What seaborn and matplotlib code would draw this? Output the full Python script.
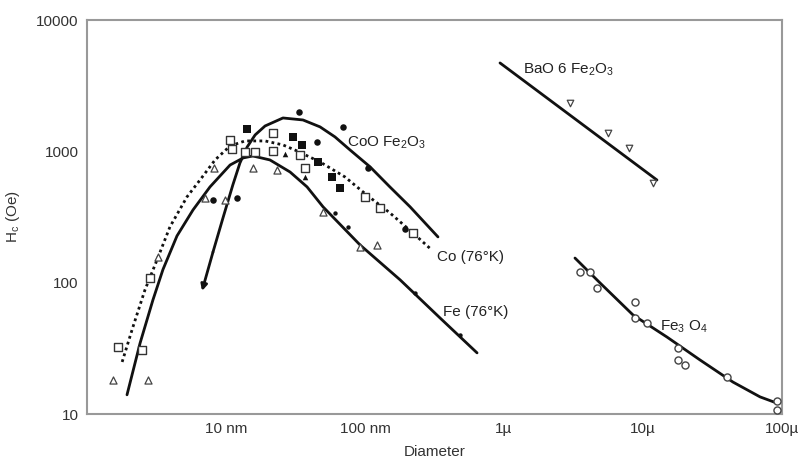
import numpy as np
import pandas as pd
import matplotlib
matplotlib.use('Agg')
import matplotlib.pyplot as plt
import seaborn as sns

# Fitted curves (diameter in nm, Hc in Oe)
fe_curve_d = [1.94, 2.41, 2.98, 3.52, 4.44, 5.79, 7.67, 10.7, 13.3, 15.6, 20.7, 28.9, 38.3, 49.9,
              92, 179, 347, 640]
fe_curve_hc = [14.0, 34.7, 73.8, 126, 227, 358, 536, 787, 891, 922, 860, 696, 536, 378,
               194, 105, 53.8, 29.2]

co_curve_d = [1.79, 2.14, 2.61, 3.19, 3.95, 5.24, 6.50, 8.34, 10.7, 13.7, 19.1, 25.7, 32.4, 47.5,
              71.8, 103, 151, 221, 303]
co_curve_hc = [24.9, 46.0, 87.9, 149, 266, 450, 605, 860, 1099, 1200, 1200, 1119, 1007, 830,
               638, 465, 340, 239, 177]

# first point is the arrow tip
coo_curve_d = [6.72, 8.06, 9.51, 11.2, 12.6, 14.2, 16.2, 19.1, 25.7, 35.8, 47.5, 60.8, 78.0,
               109, 151, 211, 335]
coo_curve_hc = [86.5, 171, 311, 555, 816, 1079, 1333, 1560, 1795, 1733, 1535, 1288, 1025,
                760, 536, 378, 223]

bao_curve_d = [936, 12600]
bao_curve_hc = [4710, 605]

fe3o4_curve_d = [3240, 4910, 8470, 14900, 25700, 44400, 69500, 92000]
fe3o4_curve_hc = [154, 99.5, 56.8, 38.5, 25.8, 17.5, 13.5, 12.1]

# Measured points
open_sq_d = [1.67, 2.49, 2.84, 10.7, 11.0, 13.7, 16.2, 21.8, 21.8, 34.1, 37.0, 100, 128, 221]
open_sq_hc = [32.4, 30.7, 109, 1222, 1042, 989, 989, 1380, 1007, 939, 748, 450, 371, 239]

filled_circ_d = [8.06, 12.0, 33.5, 45.2, 69.5, 105, 194]
filled_circ_hc = [427, 442, 1995, 1180, 1535, 748, 256]

small_dot_d = [60.8, 75.5, 229, 482]
small_dot_hc = [340, 266, 83.5, 40.0]

filled_sq_d = [14.2, 30.3, 35.2, 45.9, 57.9, 66.1]
filled_sq_hc = [1482, 1288, 1119, 830, 638, 526]

open_tri_d = [1.54, 2.75, 3.24, 7.06, 9.84, 8.20, 15.6, 23.3, 49.9, 92.0, 122]
open_tri_hc = [18.2, 18.2, 157, 442, 427, 748, 748, 721, 345, 187, 194]

small_tri_d = [26.6, 37.0]
small_tri_hc = [955, 638]

bao_pts_d = [2985, 5600, 7930, 11800]
bao_pts_hc = [2340, 1380, 1062, 574]

fe3o4_pts_d = [3520, 4160, 4670, 8750, 8750, 10700, 17900, 17900, 20100, 40200, 92000, 92000]
fe3o4_pts_hc = [120, 120, 91, 71.3, 53.8, 49.3, 31.8, 25.8, 23.6, 19.1, 12.6, 10.7]

x_ticks = [10, 100, 1000, 10000, 100000]
x_ticklabels = ['10 nm', '100 nm', '1\u00b5', '10\u00b5', '100\u00b5']
y_ticks = [10, 100, 1000, 10000]
y_ticklabels = ['10', '100', '1000', '10000']

sns.set_style('white')
plt.rcParams['font.family'] = ['Liberation Sans', 'DejaVu Sans']
plt.rcParams['mathtext.fontset'] = 'custom'
plt.rcParams['mathtext.rm'] = 'Liberation Sans'

fig = plt.figure(figsize=(8.01, 4.66), dpi=100)
ax = fig.add_axes([87 / 801, 52 / 466, 695 / 801, 394 / 466])
ax.set_xscale('log')
ax.set_yscale('log')

ink = '#111111'

# curves
sns.lineplot(x=fe_curve_d, y=fe_curve_hc, sort=False, estimator=None, color=ink, lw=2, ax=ax)
sns.lineplot(x=co_curve_d, y=co_curve_hc, sort=False, estimator=None, color=ink, lw=2,
             linestyle=(0, (1, 1.2)), ax=ax)
sns.lineplot(x=coo_curve_d[1:], y=coo_curve_hc[1:], sort=False, estimator=None, color=ink, lw=2, ax=ax)
ax.annotate('', xy=(coo_curve_d[0], coo_curve_hc[0]), xytext=(coo_curve_d[1], coo_curve_hc[1]),
            arrowprops=dict(arrowstyle='-|>', color=ink, lw=2, mutation_scale=9, shrinkA=0, shrinkB=0))
sns.lineplot(x=bao_curve_d, y=bao_curve_hc, sort=False, estimator=None, color=ink, lw=2, ax=ax)
sns.lineplot(x=fe3o4_curve_d, y=fe3o4_curve_hc, sort=False, estimator=None, color=ink, lw=2, ax=ax)

# data points
sns.scatterplot(x=open_sq_d, y=open_sq_hc, marker='s', s=34, facecolor='white',
                edgecolor='#333333', linewidth=1, ax=ax, zorder=3)
sns.scatterplot(x=filled_sq_d, y=filled_sq_hc, marker='s', s=38, color=ink, linewidth=0, ax=ax, zorder=3)
sns.scatterplot(x=filled_circ_d, y=filled_circ_hc, marker='o', s=22, color=ink, linewidth=0, ax=ax, zorder=3)
sns.scatterplot(x=small_dot_d, y=small_dot_hc, marker='o', s=10, color=ink, linewidth=0, ax=ax, zorder=3)
sns.scatterplot(x=open_tri_d, y=open_tri_hc, marker='^', s=26, facecolor='white',
                edgecolor='#444444', linewidth=0.9, ax=ax, zorder=3)
sns.scatterplot(x=small_tri_d, y=small_tri_hc, marker='^', s=16, color=ink, linewidth=0, ax=ax, zorder=3)
sns.scatterplot(x=bao_pts_d, y=bao_pts_hc, marker='v', s=22, facecolor='white',
                edgecolor='#444444', linewidth=0.9, ax=ax, zorder=3)
sns.scatterplot(x=fe3o4_pts_d, y=fe3o4_pts_hc, marker='o', s=26, facecolor='white',
                edgecolor='#444444', linewidth=1, ax=ax, zorder=3)

# curve labels
lab = dict(fontsize=11, color='#222222', va='center', ha='left')
ax.text(74.2, 1160, 'CoO Fe$_2$O$_3$', **lab)
ax.text(330, 157, 'Co (76\u00b0K)', **lab)
ax.text(364, 59.8, 'Fe (76\u00b0K)', **lab)
ax.text(1370, 4170, 'BaO 6 Fe$_2$O$_3$', **lab)
ax.text(13250, 46.0, 'Fe$_3$ O$_4$', **lab)

ax.set_xlim(1, 100000)
ax.set_ylim(10, 10000)
ax.set_xticks(x_ticks)
ax.set_xticklabels(x_ticklabels)
ax.set_yticks(y_ticks)
ax.set_yticklabels(y_ticklabels)
ax.minorticks_off()
ax.tick_params(length=0, labelsize=11, labelcolor='#333333', pad=6)

ax.set_xlabel('Diameter', fontsize=11, color='#333333', labelpad=6)
ax.set_ylabel('H$_\\mathregular{c}$ (Oe)', fontsize=11, color='#333333', labelpad=10)

for sp in ax.spines.values():
    sp.set_color('#999999')
    sp.set_linewidth(1.5)

fig.savefig('out.png', dpi=100)
